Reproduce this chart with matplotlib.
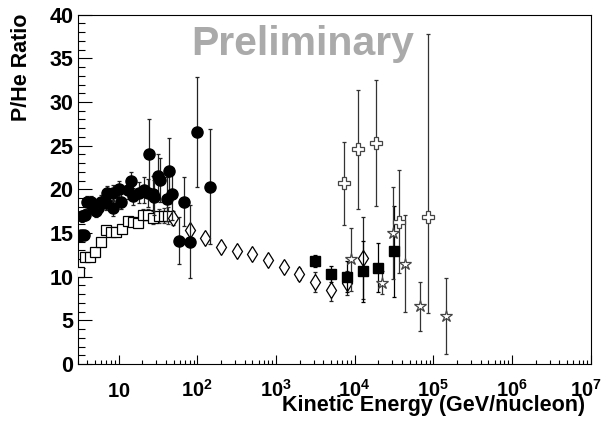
import numpy as np
import matplotlib
matplotlib.use("Agg")
import matplotlib.pyplot as plt
from matplotlib.transforms import ScaledTranslation
from matplotlib.ticker import FixedLocator, LogLocator, NullFormatter, FixedFormatter, MultipleLocator

plt.rcParams['font.family'] = ['Liberation Sans', 'DejaVu Sans']
plt.rcParams['font.weight'] = 'bold'
plt.rcParams['mathtext.fontset'] = 'custom'
plt.rcParams['mathtext.rm'] = 'Liberation Sans:bold'
plt.rcParams['mathtext.it'] = 'Liberation Sans:bold'
plt.rcParams['mathtext.bf'] = 'Liberation Sans:bold'

# ---- data ----
circ_E = [3.1, 3.3, 3.45, 3.6, 3.7, 4.0, 4.4, 4.7, 5.1, 5.5, 6.0, 6.9, 7.2, 8.4, 8.6,
          10.0, 10.7, 13.0, 14.4, 15.4, 18.4, 21.3, 23.5, 24.0, 27.2, 28.5, 31.4, 33.7,
          41, 43.4, 48, 58, 68, 80, 99, 147]
circ_v = [14.7, 14.8, 16.9, 14.8, 17.1, 18.5, 18.5, 18.0, 17.5, 17.9, 18.6, 18.4, 19.6,
          19.6, 17.9, 20.0, 18.6, 19.9, 21.0, 19.2, 19.6, 19.9, 19.6, 24.1, 19.5, 19.1,
          21.5, 21.1, 18.9, 22.1, 19.5, 14.1, 18.6, 14.0, 26.6, 20.3]
circ_err = [0.5, 0.5, 0.6, 0.6, 0.6, 0.7, 0.7, 0.7, 0.7, 0.8, 0.8, 0.8, 0.8, 0.9, 0.9,
            0.9, 0.9, 1.0, 1.0, 1.0, 1.2, 1.5, 1.6, 4.0, 2.0, 2.0, 2.5, 2.5, 2.5, 3.8,
            3.0, 2.7, 2.8, 4.2, 6.3, 6.6]

osq_E = [3.16, 3.76, 4.3, 5.05, 5.97, 6.91, 8.0, 9.26, 10.9, 13.0, 15.1, 17.5, 20.2,
         23.4, 27.7, 32.4, 37.2, 42.2]
osq_v = [10.5, 12.2, 12.3, 12.8, 14.0, 15.3, 15.1, 15.1, 15.5, 16.4, 16.3, 16.2, 17.1,
         17.1, 16.7, 17.0, 17.0, 17.0]
osq_err = [0.3, 0.3, 0.3, 0.3, 0.3, 0.3, 0.3, 0.4, 0.4, 0.4, 0.5, 0.5, 0.6, 0.6, 0.7,
           0.8, 0.9, 1.0]

dia_E = [49, 80, 125, 198, 317, 502, 795, 1260, 1980, 3130, 5010, 7940, 12600]
dia_v = [16.7, 15.3, 14.4, 13.4, 12.9, 12.6, 11.9, 11.1, 10.3, 9.4, 8.5, 9.3, 12.1]
dia_err = [0.8, 0.5, 0.3, 0.3, 0.3, 0.4, 0.5, 0.6, 0.7, 1.1, 1.3, 1.4, 4.7]

fsq_E = [3130, 5010, 7940, 12600, 19800, 31300]
fsq_v = [11.8, 10.3, 10.0, 10.6, 11.0, 12.9]
fsq_err = [0.7, 0.95, 1.8, 3.5, 2.8, 5.2]

crs_E = [7350, 11000, 18600, 37000, 84900]
crs_v = [20.7, 24.6, 25.3, 16.3, 16.8]
crs_lo = [4.75, 6.8, 7.2, 5.9, 11.0]
crs_hi = [4.75, 6.8, 7.2, 5.9, 21.0]

star_E = [8960, 22200, 30300, 43200, 68400, 145000]
star_v = [12.0, 9.3, 15.0, 11.5, 6.6, 5.5]
star_err = [3.6, 1.3, 5.3, 5.6, 2.8, 4.3]

x_major = [10, 1e2, 1e3, 1e4, 1e5, 1e6, 1e7]
x_labels = [r'$10$', r'$10^{2}$', r'$10^{3}$', r'$10^{4}$', r'$10^{5}$', r'$10^{6}$', r'$10^{7}$']

# ---- figure ----
fig = plt.figure(figsize=(6.04, 4.22), dpi=100)
ax = fig.add_axes([77.5 / 604, 58 / 422, (590.7 - 77.5) / 604, (364 - 14.7) / 422])
ax.set_xscale('log')
ax.set_xlim(3, 1e7)
ax.set_ylim(0, 40)

lw = 0.9
ebkw = dict(elinewidth=lw, capsize=1.5, capthick=lw, linestyle='none')

ax.errorbar(osq_E, osq_v, yerr=osq_err, fmt='s', ms=7, mfc='white', mec='black',
            mew=0.9, color='#333333', zorder=3, **ebkw)
ax.errorbar(circ_E, circ_v, yerr=circ_err, fmt='o', ms=8, mfc='black', mec='black',
            color='#222222', zorder=4, **ebkw)
ax.errorbar(dia_E, dia_v, yerr=dia_err, fmt='d', ms=8, mfc='white', mec='black',
            mew=0.9, color='#222222', zorder=3, **ebkw)
ax.errorbar(fsq_E, fsq_v, yerr=fsq_err, fmt='s', ms=7, mfc='black', mec='black',
            color='black', zorder=4, **ebkw)
ax.errorbar(crs_E, crs_v, yerr=[crs_lo, crs_hi], fmt='P', ms=8, mfc='white', mec='#444444',
            mew=0.9, color='#333333', zorder=4, **ebkw)
ax.errorbar(star_E, star_v, yerr=star_err, fmt='*', ms=9, mfc='white', mec='#444444',
            mew=0.9, color='#333333', zorder=4, **ebkw)

# ---- axes styling (ROOT-like) ----
for s in ax.spines.values():
    s.set_linewidth(0.8)

ax.xaxis.set_major_locator(FixedLocator(x_major))
ax.xaxis.set_major_formatter(FixedFormatter(x_labels))
ax.xaxis.set_minor_locator(LogLocator(base=10, subs=np.arange(2, 10), numticks=30))
ax.xaxis.set_minor_formatter(NullFormatter())
ax.yaxis.set_major_locator(MultipleLocator(5))
ax.yaxis.set_minor_locator(MultipleLocator(1))

ax.tick_params(axis='x', which='major', direction='in', length=6.7, width=0.8,
               labelsize=14.5, pad=23.5, top=False)
ax.tick_params(axis='x', which='minor', direction='in', length=3.2, width=0.8, top=False)
ax.tick_params(axis='y', which='major', direction='in', length=10, width=0.8,
               labelsize=15.5, pad=3, right=False)
ax.tick_params(axis='y', which='minor', direction='in', length=5.3, width=0.8, right=False)
xlabs = ax.get_xticklabels()
for lab in xlabs:
    lab.set_va('baseline')
    lab.set_fontweight('bold')
xlabs[-1].set_transform(xlabs[-1].get_transform() +
                        ScaledTranslation(-5 / 100, 0, fig.dpi_scale_trans))
for lab in ax.get_yticklabels():
    lab.set_fontweight('bold')

fig.text(585 / 604, (422 - 411) / 422, 'Kinetic Energy (GeV/nucleon)', ha='right',
         va='baseline', fontsize=15.5, fontweight='bold')
fig.text(22 / 604, (422 - 14) / 422, 'P/He Ratio', ha='center', va='top', rotation=90,
         fontsize=15.5, fontweight='bold')

ax.text(0.438, 0.915, 'Preliminary', transform=ax.transAxes, ha='center', va='center',
        fontsize=29.5, fontweight='bold', color='#aaaaaa', zorder=1)

fig.savefig('out.png', dpi=100)
